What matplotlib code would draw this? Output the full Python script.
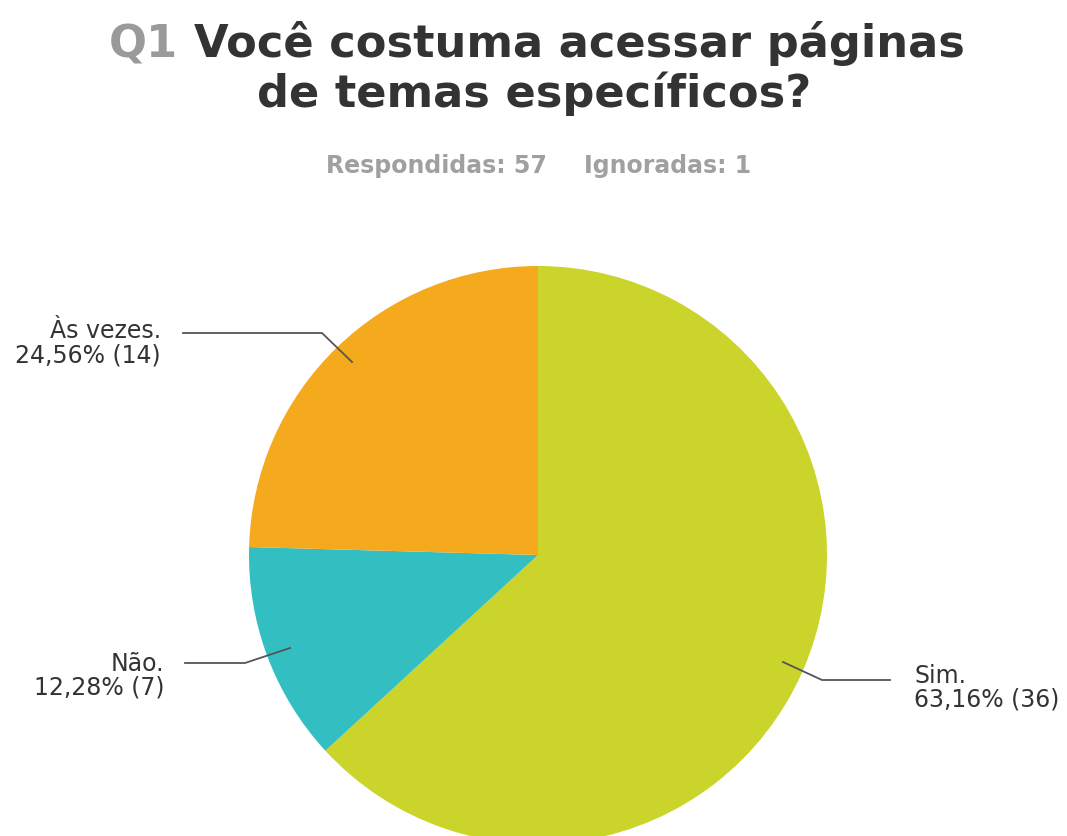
import matplotlib
matplotlib.use("Agg")
import matplotlib.pyplot as plt

# survey answers, clockwise from the top
labels = ["Sim.", "Não.", "Às vezes."]
counts = [36, 7, 14]
percents = ["63,16%", "12,28%", "24,56%"]
colors = ["#CAD42A", "#33BEC1", "#F5AA1E"]

W, H = 1067, 836
fig = plt.figure(figsize=(W / 100, H / 100), dpi=100)
ax = fig.add_axes([0, 0, 1, 1])

# work in pixel units, y measured upward
cx, cy, r = 538, H - 555, 289
ax.pie(counts, colors=colors, startangle=90, counterclock=False,
       center=(cx, cy), radius=r, wedgeprops=dict(linewidth=0))
ax.set_xlim(0, W)
ax.set_ylim(0, H)
ax.set_aspect("equal")
ax.axis("off")

# ---------------- TITLE ----------------
title_kw = dict(fontsize=32.2, fontweight="bold", va="baseline")
line1 = "Q1 Você costuma acessar páginas"
renderer = fig.canvas.get_renderer()
probe = ax.text(0, 0, line1, **title_kw)
bb = probe.get_window_extent(renderer)
probe.remove()
left = 537 - bb.width / 2
right = 537 + bb.width / 2
ax.text(left, H - 57, "Q1", color="#9a9a9a", ha="left", **title_kw)
ax.text(right, H - 57, "Você costuma acessar páginas", color="#333333",
        ha="right", **title_kw)
ax.text(534, H - 107, "de temas específicos?", color="#333333",
        ha="center", **title_kw)

sub_kw = dict(fontsize=17, fontweight="bold", color="#a0a0a0", va="baseline")
ax.text(436, H - 173, "Respondidas: 57", ha="center", **sub_kw)
ax.text(668, H - 173, "Ignoradas: 1", ha="center", **sub_kw)

# ---------------- LABELS ----------------
line_kw = dict(color="#555555", linewidth=1.3)
lab_kw = dict(fontsize=17, color="#333333", va="baseline")


def label(x, y, i, ha):
    # name on the first line, share and count underneath
    ax.text(x, H - y, labels[i], ha=ha, **lab_kw)
    ax.text(x, H - y - 24, f"{percents[i]} ({counts[i]})", ha=ha, **lab_kw)


# Sim.
ax.plot([783, 822, 890], [H - 662, H - 680, H - 680], **line_kw)
label(914, 683, 0, "left")

# Não.
ax.plot([185, 245, 290], [H - 663, H - 663, H - 648], **line_kw)
label(164, 671, 1, "right")

# Às vezes.
ax.plot([183, 322, 352], [H - 333, H - 333, H - 362], **line_kw)
label(161, 338, 2, "right")

fig.savefig("out.png", dpi=100, facecolor="white")
